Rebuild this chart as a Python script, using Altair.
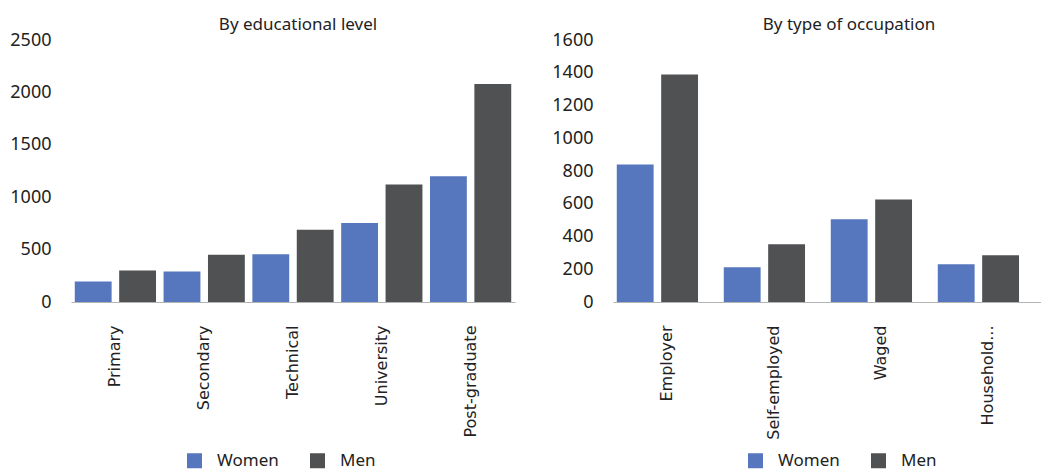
import altair as alt
import pandas as pd

# ---- data ----
sexes = ["Women", "Men"]
colors = ["#5677BD", "#505153"]

edu_categories = ["Primary", "Secondary", "Technical", "University", "Post-graduate"]
edu_women = [195, 290, 455, 755, 1200]
edu_men = [300, 450, 690, 1120, 2080]

occ_categories = ["Employer", "Self-employed", "Waged", "Household..."]
occ_women = [840, 212, 505, 230]
occ_men = [1390, 353, 626, 285]

edu_ticks = [0, 500, 1000, 1500, 2000, 2500]
occ_ticks = [0, 200, 400, 600, 800, 1000, 1200, 1400, 1600]


def make_df(cats, women, men):
    rows = []
    for c, w, m in zip(cats, women, men):
        rows.append({"category": c, "sex": "Women", "value": w})
        rows.append({"category": c, "sex": "Men", "value": m})
    return pd.DataFrame(rows)


def panel(df, cats, title, ticks, width, p_in, p_out, title_dx, leg_x):
    return alt.Chart(
        df,
        title=alt.TitleParams(title, fontSize=17, fontWeight="normal", font="Noto Sans",
                              color="#222222", dx=title_dx, offset=-3),
    ).mark_bar().encode(
        x=alt.X("category:N", sort=cats,
                scale=alt.Scale(paddingInner=0, paddingOuter=0),
                axis=alt.Axis(title=None, labelAngle=-90, labelAlign="right",
                              labelBaseline="middle", labelPadding=23, ticks=False,
                              domainColor="#B4B4B4", domainWidth=1.2,
                              labelFont="DejaVu Sans", labelFontSize=16,
                              labelColor="#222222")),
        xOffset=alt.XOffset("sex:N", sort=sexes,
                            scale=alt.Scale(paddingInner=p_in, paddingOuter=p_out)),
        y=alt.Y("value:Q", scale=alt.Scale(domain=[ticks[0], ticks[-1]], nice=False),
                axis=alt.Axis(title=None, values=ticks, format="d", grid=False, ticks=False,
                              domain=False, labelPadding=20, labelFont="Noto Sans",
                              labelFontSize=18, labelColor="#222222")),
        color=alt.Color("sex:N", sort=sexes,
                        scale=alt.Scale(domain=sexes, range=colors),
                        legend=alt.Legend(title=None, orient="none", direction="horizontal",
                                          legendX=leg_x, legendY=412,
                                          symbolType="square", symbolSize=225,
                                          symbolStrokeWidth=0, symbolOpacity=1,
                                          labelFont="Noto Sans", labelFontSize=17,
                                          labelColor="#222222", labelOffset=14,
                                          columnPadding=30)),
    ).properties(width=width, height=262)


left = panel(make_df(edu_categories, edu_women, edu_men), edu_categories,
             "By educational level", edu_ticks, 444, 0.17, 0.085, 5, 115)
right = panel(make_df(occ_categories, occ_women, occ_men), occ_categories,
              "By type of occupation", occ_ticks, 428, 0.196, 0.30, 22, 134)

chart = alt.hconcat(left, right, spacing=36).resolve_scale(
    color="independent"
).resolve_legend(color="independent").properties(
    padding={"left": 1, "top": 8, "right": 0, "bottom": 3},
    background="white",
).configure_view(strokeWidth=0, stroke="transparent")

chart.save("out.html", embed_options={"renderer": "svg", "actions": False})
